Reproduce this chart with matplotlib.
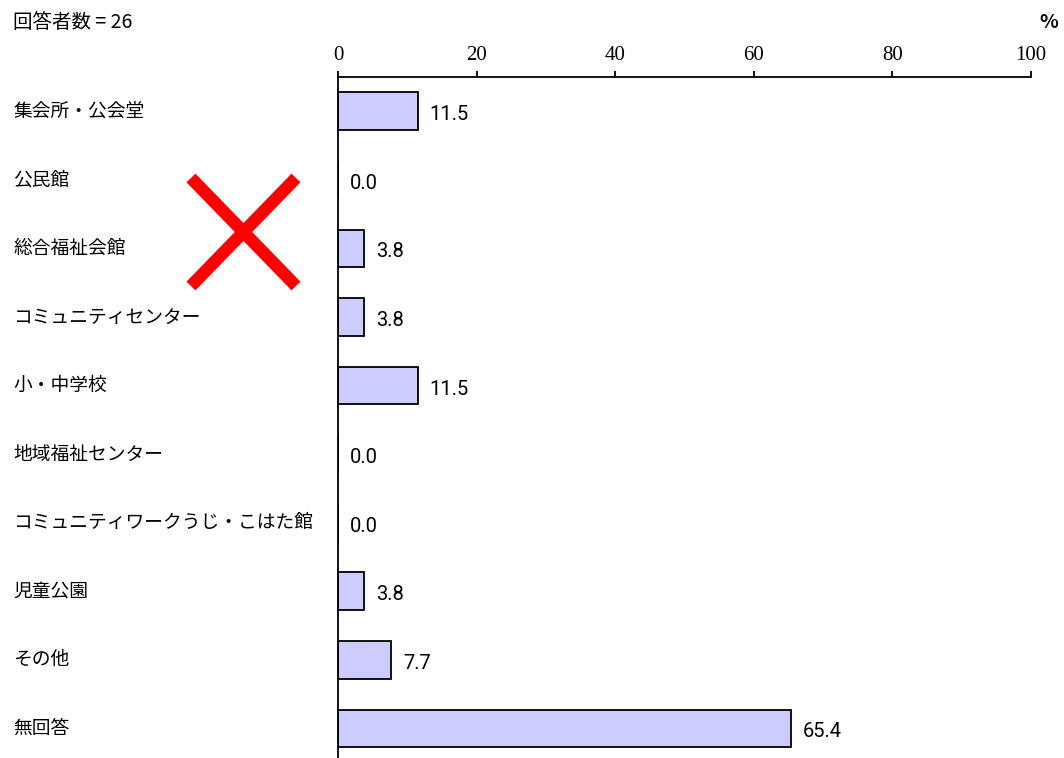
import matplotlib
matplotlib.use("Agg")
import matplotlib.pyplot as plt
from matplotlib.lines import Line2D

categories = ["集会所・公会堂", "公民館", "総合福祉会館", "コミュニティセンター", "小・中学校",
              "地域福祉センター", "コミュニティワークうじ・こはた館", "児童公園", "その他", "無回答"]
values = [11.5, 0.0, 3.8, 3.8, 11.5, 0.0, 0.0, 3.8, 7.7, 65.4]
x_ticks = [0, 20, 40, 60, 80, 100]

jp = ["Noto Sans CJK JP", "DejaVu Sans"]

W, H = 1064, 758
fig = plt.figure(figsize=(W / 100, H / 100), dpi=100)
ax = fig.add_axes([338 / W, 0, (1031 - 338) / W, 1 - 77 / H])

y = list(range(len(categories)))
ax.barh(y, values, height=0.55, color="#CCCCFF", edgecolor="black", linewidth=1.3)
ax.set_xlim(0, 100)
ax.set_ylim(9.43, -0.5)

for spine in ["right", "bottom"]:
    ax.spines[spine].set_visible(False)
ax.spines["top"].set_linewidth(1.3)
ax.spines["left"].set_linewidth(1.3)
ax.xaxis.tick_top()
ax.set_xticks(x_ticks)
ax.set_xticklabels([str(t) for t in x_ticks], family="Liberation Serif", fontsize=15)
ax.tick_params(axis="x", direction="out", length=4, width=1.3, pad=5)
ax.set_yticks([])

for i, v in enumerate(values):
    ax.text(v + 1.7, i + 0.05, f"{v:.1f}", va="center", ha="left",
            family="Roboto", fontsize=14.5)

# category labels, left aligned at the figure edge
for i, name in enumerate(categories):
    yf = 1 - (77 + (i + 0.5) * 68.56) / H
    fig.text(13 / W, yf, name, ha="left", va="center", family=jp, fontsize=13.5)

fig.text(13 / W, 1 - 22 / H, "回答者数 = 26", ha="left", va="center", family=jp, fontsize=14)
fig.text(1058 / W, 1 - 22 / H, "%", ha="right", va="center", family=jp,
         fontsize=14, fontweight="bold")

# red cross mark
fig.add_artist(Line2D([191 / W, 296 / W], [1 - 178 / H, 1 - 286 / H], color="red", lw=9,
                      solid_capstyle="butt"))
fig.add_artist(Line2D([191 / W, 296 / W], [1 - 286 / H, 1 - 178 / H], color="red", lw=9,
                      solid_capstyle="butt"))

fig.savefig("out.png", dpi=100)
